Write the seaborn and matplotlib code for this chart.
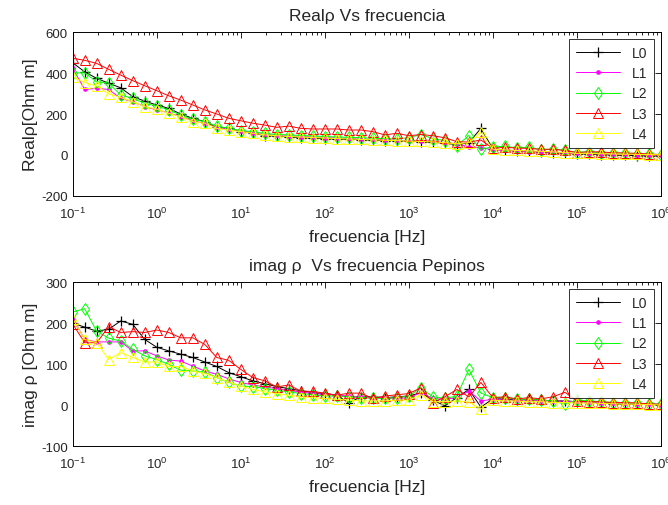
import numpy as np
import pandas as pd
import matplotlib
matplotlib.use("Agg")
import matplotlib.pyplot as plt
import seaborn as sns
from matplotlib.ticker import LogLocator, NullFormatter

# frequency grid (Hz), 7 points per decade from 0.1 Hz to 1 MHz
mant = [1.0, 1.389, 1.931, 2.683, 3.728, 5.179, 7.197]
freq = [m * 10.0 ** e for e in range(-1, 6) for m in mant] + [1e6]

series_names = ["L0", "L1", "L2", "L3", "L4"]

# Real rho [Ohm m]
real_L0 = [450, 406, 374, 350, 328, 285, 263, 244, 228, 200, 179, 163, 135, 130, 114, 106,
           95, 92, 88, 85, 83, 80, 78, 76, 75, 72, 70, 70, 68, 65, 62, 58, 50, 60, 130, 30,
           25, 20, 18, 15, 12, 10, 5, 5, 2, 0, -2, -3, -5, -5]
real_L1 = [423, 320, 325, 320, 276, 260, 236, 220, 206, 187, 167, 155, 135, 125, 119, 109,
           100, 96, 93, 90, 88, 85, 83, 80, 78, 76, 74, 72, 70, 68, 66, 60, 55, 40, 36, 25,
           22, 20, 17, 15, 13, 10, 8, 7, 5, 4, 3, 2, 1, 0]
real_L2 = [400, 401, 357, 350, 293, 276, 252, 239, 220, 195, 174, 163, 141, 130, 119, 114,
           105, 100, 98, 95, 93, 90, 88, 86, 84, 82, 80, 78, 85, 100, 80, 70, 45, 95, 28, 40,
           42, 35, 38, 26, 28, 24, 12, 16, 10, 10, 8, 6, 4, 2]
real_L3 = [472, 462, 447, 418, 390, 363, 338, 314, 289, 268, 244, 220, 200, 179, 167, 155,
           146, 135, 141, 130, 127, 127, 127, 122, 122, 114, 98, 106, 94, 100, 94, 84, 65, 63,
           73, 33, 38, 34, 32, 28, 28, 22, 12, 16, 15, 11, 10, 8, 5, 2]
real_L4 = [382, 353, 337, 298, 281, 260, 236, 224, 203, 187, 163, 155, 130, 122, 114, 106,
           98, 94, 90, 88, 85, 83, 80, 78, 76, 74, 72, 70, 68, 66, 64, 60, 55, 60, 110, 28,
           25, 22, 20, 18, 15, 12, 8, 8, 6, 5, 4, 3, 2, 1]

# Imag rho [Ohm m]
imag_L0 = [200, 190, 180, 185, 205, 197, 160, 141, 132, 124, 116, 105, 94, 79, 69, 59,
           52, 45, 40, 35, 30, 28, 24, 5, 20, 20, 18, 20, 22, 30, 12, -2, 18, 38, -5, 15,
           15, 12, 14, 12, 10, 10, 8, 8, 5, 3, 2, 3, 2, 0]
imag_L1 = [213, 160, 154, 154, 154, 132, 132, 120, 110, 107, 95, 83, 75, 64, 55, 49,
           44, 40, 35, 32, 28, 26, 24, 22, 20, 18, 18, 16, 18, 30, 16, 14, 18, 34, 10, 14,
           12, 12, 12, 10, 10, 9, 8, 7, 6, 5, 4, 3, 2, 1]
imag_L2 = [227, 235, 180, 163, 156, 136, 120, 111, 99, 85, 83, 80, 67, 55, 46, 45,
           40, 36, 32, 28, 25, 22, 22, 20, 18, 16, 16, 18, 22, 42, 20, 16, 22, 87, 29, 18,
           18, 14, 14, 12, 10, 2, 12, 10, 8, 6, 5, 4, 3, 2]
imag_L3 = [198, 152, 152, 191, 177, 179, 177, 183, 177, 164, 164, 148, 116, 109, 87, 67,
           59, 44, 49, 34, 33, 29, 24, 29, 29, 16, 22, 25, 28, 42, 5, 20, 38, 20, 55, 18,
           20, 15, 18, 15, 20, 31, 10, 8, 8, 6, 6, 5, 3, 2]
imag_L4 = [211, 160, 152, 111, 128, 116, 105, 105, 94, 94, 83, 77, 67, 56, 46, 38,
           32, 28, 24, 20, 18, 16, 14, 12, 10, 10, 10, 12, 12, 25, 8, 8, 10, 7, -10, 12,
           10, 10, 8, 8, 6, 6, 5, 5, 4, 3, 2, 2, 1, 0]

real_vals = [real_L0, real_L1, real_L2, real_L3, real_L4]
imag_vals = [imag_L0, imag_L1, imag_L2, imag_L3, imag_L4]

xtick_vals = [1e-1, 1e0, 1e1, 1e2, 1e3, 1e4, 1e5, 1e6]

sns.set_style("white")
plt.rcParams["font.family"] = ["Liberation Sans", "DejaVu Sans"]
plt.rcParams["mathtext.fontset"] = "custom"
plt.rcParams["mathtext.rm"] = "Liberation Sans"
plt.rcParams["axes.unicode_minus"] = False
plt.rcParams["xtick.direction"] = "in"
plt.rcParams["ytick.direction"] = "in"

styles = [
    dict(color="black", marker="+", markersize=7, markerfacecolor="black", markeredgewidth=0.9),
    dict(color="magenta", marker=".", markersize=5, markerfacecolor="magenta", markeredgewidth=0.8),
    dict(color="#00ff00", marker="d", markersize=6, markerfacecolor="none", markeredgewidth=0.7),
    dict(color="red", marker="^", markersize=7, markerfacecolor="none", markeredgewidth=0.7),
    dict(color="yellow", marker="^", markersize=7, markerfacecolor="none", markeredgewidth=0.7),
]

fig = plt.figure(figsize=(6.68, 5.06), dpi=100)
ax1 = fig.add_axes([0.1088, 0.6107, 0.8807, 0.324])
ax2 = fig.add_axes([0.1088, 0.1166, 0.8807, 0.324])


def draw(ax, vals, ylim, yticks, title, ylabel):
    for name, v, st in zip(series_names, vals, styles):
        n_before = len(ax.lines)
        sns.lineplot(x=freq, y=v, ax=ax, label=name, sort=False, color=st["color"])
        ln = ax.lines[n_before]
        ln.set_linestyle("-")
        ln.set_linewidth(0.7)
        ln.set_color(st["color"])
        ln.set_marker(st["marker"])
        ln.set_markersize(st["markersize"])
        ln.set_markeredgecolor(st["color"])
        ln.set_markerfacecolor(st["markerfacecolor"])
        ln.set_markeredgewidth(st["markeredgewidth"])
    ax.set_xscale("log")
    ax.set_xlim(1e-1, 1e6)
    ax.set_ylim(*ylim)
    ax.set_yticks(yticks)
    ax.set_xticks(xtick_vals)
    ax.xaxis.set_minor_locator(LogLocator(base=10, subs=np.arange(2, 10), numticks=20))
    ax.xaxis.set_minor_formatter(NullFormatter())
    ax.tick_params(which="both", top=True, right=True, direction="in", labelsize=9.5,
                   length=4, width=0.6, color="black")
    ax.tick_params(which="minor", length=2.5)
    ax.tick_params(axis="x", pad=7)
    for s in ax.spines.values():
        s.set_visible(True)
        s.set_color("black")
        s.set_linewidth(0.7)
    ax.set_title(title, fontsize=12.5, pad=9)
    ax.set_xlabel("frecuencia [Hz]", fontsize=12.5, labelpad=6)
    ax.set_ylabel(ylabel, fontsize=12.5, labelpad=2)
    handles, labels = ax.get_legend_handles_labels()
    leg = ax.legend(handles, labels, loc="upper right", fontsize=10, frameon=True,
                    fancybox=False, edgecolor="black", handlelength=3.2, borderpad=0.5,
                    labelspacing=0.45, borderaxespad=0.5)
    leg.get_frame().set_linewidth(0.7)


draw(ax1, real_vals, (-200, 600), [-200, 0, 200, 400, 600],
     "Realρ Vs frecuencia", "Realρ[Ohm m]")
draw(ax2, imag_vals, (-100, 300), [-100, 0, 100, 200, 300],
     "imag ρ  Vs frecuencia Pepinos", "imag ρ [Ohm m]")

fig.savefig("out.png", dpi=100, facecolor="white")
